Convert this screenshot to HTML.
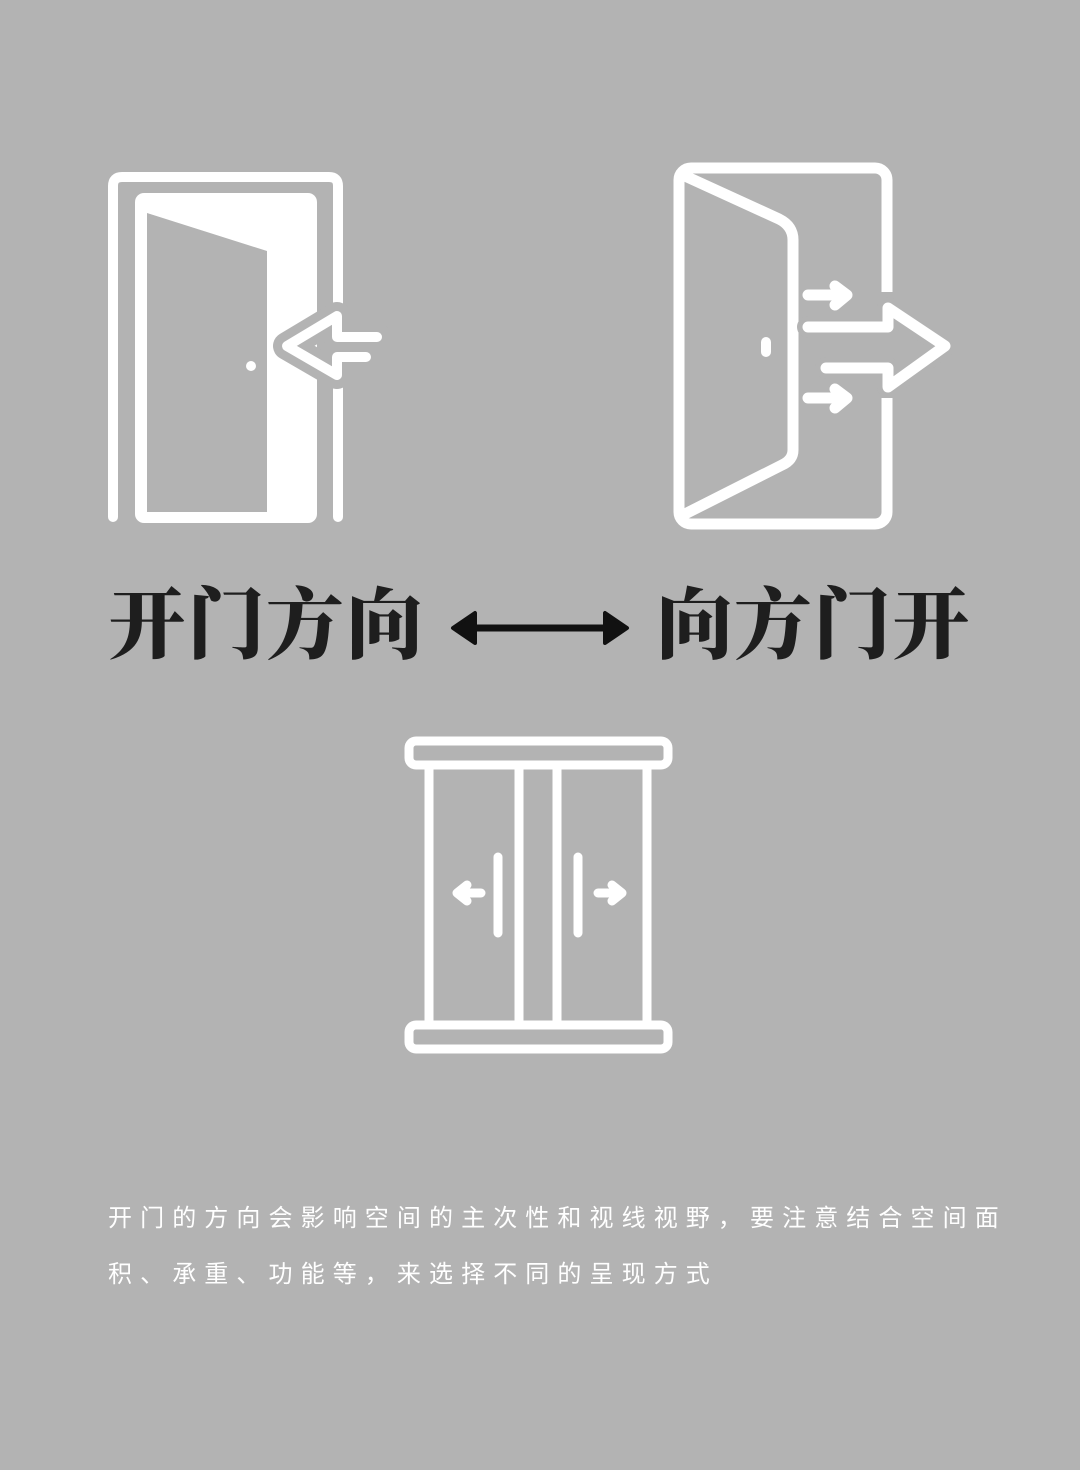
<!DOCTYPE html>
<html><head><meta charset="utf-8"><style>
html,body{margin:0;padding:0;}
body{width:1080px;height:1470px;background:#b3b3b3;position:relative;overflow:hidden;}
.t{position:absolute;font-family:"Liberation Serif","Noto Serif CJK SC",serif;font-weight:900;font-size:78px;color:#1e1e1e;line-height:1;white-space:nowrap;}
.p{position:absolute;left:108px;font-family:"Liberation Sans","Noto Sans CJK SC",sans-serif;font-size:24px;letter-spacing:8.1px;color:#fff;white-space:nowrap;line-height:1;}
</style></head><body>
<svg width="1080" height="1470" style="position:absolute;left:0;top:0" fill="none" stroke="#fff" stroke-linecap="round" stroke-linejoin="round">
<!-- left door -->
<path d="M113 517 V186 Q113 177 122 177 H329 Q338 177 338 186 V517" stroke-width="10"/>
<rect x="135" y="193" width="182" height="330" rx="9" fill="#fff" stroke="none"/>
<polygon points="147,213 267,251 267,512 147,512" fill="#b3b3b3" stroke="none"/>
<circle cx="251" cy="366" r="5" fill="#fff" stroke="none"/>
<path d="M377 337 H337 V316 L287 346 L337 375 V357 H366" stroke="#b3b3b3" stroke-width="28"/>
<path d="M377 337 H337 V316 L287 346 L337 375 V357 H366" stroke-width="10"/>
<!-- right door -->
<rect x="679" y="168" width="208" height="356" rx="12" stroke-width="11"/>
<path d="M685 176 L779 219 Q793 226 793 240 V450 Q793 460 782 465 L685 514" stroke-width="11"/>
<rect x="761" y="337" width="10" height="20" rx="5" fill="#fff" stroke="none"/>
<path d="M888 292 V398" stroke="#b3b3b3" stroke-width="16" stroke-linecap="butt"/>
<path d="M808 327 H888 V308 L945 346 L888 387 V368 H826" stroke="#b3b3b3" stroke-width="22"/>
<path d="M808 327 H888 V308 L945 346 L888 387 V368 H826" stroke-width="11"/>
<path d="M808 295 H845 M835 286 L847 295 L835 305 M808 398 H845 M835 389 L847 398 L835 408" stroke-width="11"/>
<!-- sliding door -->
<rect x="409" y="741" width="259" height="24" rx="7" stroke-width="9"/>
<rect x="409" y="1025" width="259" height="24" rx="7" stroke-width="9"/>
<path d="M429 766 V1023 M519 766 V1023 M557 766 V1023 M647 766 V1023" stroke-width="9"/>
<path d="M498 857 V933 M578 857 V933" stroke-width="9"/>
<path d="M481 893 H460 M467 885 L457 893 L467 901 M598 893 H619 M612 885 L622 893 L612 901" stroke-width="9"/>
<!-- double arrow -->
<path d="M470 628 H610" stroke="#111" stroke-width="7"/>
<polygon points="453,628 475,613 475,643" fill="#111" stroke="#111" stroke-width="4"/>
<polygon points="627,628 605,613 605,643" fill="#111" stroke="#111" stroke-width="4"/>
</svg>
<div class="t" style="left:108px;top:587px;letter-spacing:1px">开门方向</div>
<div class="t" style="left:655px;top:587px;letter-spacing:1px">向方门开</div>
<div class="p" style="top:1207px">开门的方向会影响空间的主次性和视线视野，要注意结合空间面</div>
<div class="p" style="top:1263px">积、承重、功能等，来选择不同的呈现方式</div>
</body></html>
